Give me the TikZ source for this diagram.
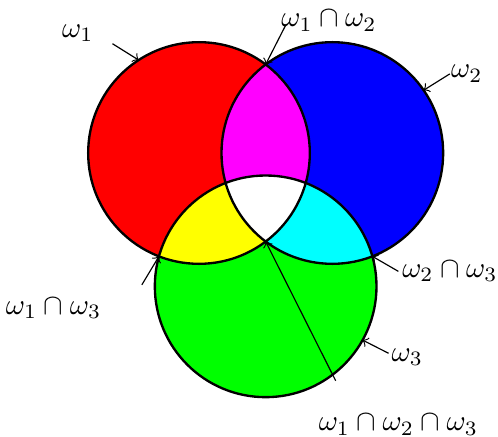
\documentclass[tikz,border=0pt]{standalone}
\usepackage{amsmath}
\usepackage{tikz}
\usetikzlibrary{positioning, calc}
\definecolor{vRed}{RGB}{255,0,0}
\definecolor{vBlue}{RGB}{0,0,255}
\definecolor{vGreen}{RGB}{0,255,0}
\definecolor{vMagenta}{RGB}{255,0,255}
\definecolor{vYellow}{RGB}{255,255,0}
\definecolor{vCyan}{RGB}{0,255,255}
\tikzset{
	setdisc/.style={draw=black, thick},
	lbl/.style={inner sep=0pt},
	pointer/.style={->},
}
\newcommand{\vennr}{1.33}

\begin{document}
\begin{tikzpicture}
	\useasboundingbox (-2.388,1.836) rectangle (3.588,-3.408);
	\coordinate (c1) at (0,0);
	\coordinate (c2) at (1.6,0);
	\coordinate (c3) at (0.8,-1.6);
	% single sets
	\fill[vRed] (c1) circle (\vennr);
	\fill[vBlue] (c2) circle (\vennr);
	\fill[vGreen] (c3) circle (\vennr);
	% overlaps
	\begin{scope}
		\clip (c2) circle (\vennr);
		\fill[vCyan] (c3) circle (\vennr);
	\end{scope}
	\begin{scope}
		\clip (c1) circle (\vennr);
		\fill[vMagenta] (c2) circle (\vennr);
		\fill[vYellow] (c3) circle (\vennr);
		\clip (c2) circle (\vennr);
		\fill[white] (c3) circle (\vennr);
	\end{scope}
	\draw[setdisc] (c1) circle (\vennr);
	\draw[setdisc] (c2) circle (\vennr);
	\draw[setdisc] (c3) circle (\vennr);

	% points the labels refer to
	\coordinate (p1) at ($(c1)+(123:\vennr)$);
	\coordinate (p2) at ($(c2)+(34.5:\vennr)$);
	\coordinate (p3) at ($(c3)+(-29:\vennr)$);
	\coordinate (p12) at (0.8,1.0625);
	\coordinate (p13) at (-0.4804,-1.2402);
	\coordinate (p23) at (2.0804,-1.2402);
	\coordinate (p123) at (0.8,-1.0625);

	\coordinate (t1) at ($(p1)+(148:0.37)$);
	\coordinate (t2) at ($(p2)+(32:0.37)$);
	\coordinate (t3) at ($(p3)+(-27:0.35)$);
	\coordinate (t12) at ($(p12)+(63:0.53)$);
	\coordinate (t13) at ($(p13)+(239:0.4)$);
	\coordinate (t23) at ($(p23)+(-30:0.36)$);
	\coordinate (t123) at ($(p123)+(-63.3:1.87)$);

	\node[lbl, above left=0.02cm and 0.22cm of t1] (l1) {$\omega_1$};
	\node[lbl, right=0.01cm of t2] (l2) {$\omega_2$};
	\node[lbl, right=0.03cm of t3, yshift=-0.05cm] (l3) {$\omega_3$};
	\node[lbl, above right=-0.08cm and -0.06cm of t12] (l12) {$\omega_1\cap\omega_2$};
	\node[lbl, below left=0.153cm and 0.48cm of t13] (l13) {$\omega_1\cap\omega_3$};
	\node[lbl, right=0.04cm of t23] (l23) {$\omega_2\cap\omega_3$};
	\node[lbl, below right=0.4cm and -0.21cm of t123] (l123) {$\omega_1\cap\omega_2\cap\omega_3$};

	\draw[pointer] (t1) -- (p1);
	\draw[pointer] (t2) -- (p2);
	\draw[pointer] (t3) -- (p3);
	\draw[pointer] (t12) -- (p12);
	\draw[pointer] (t13) -- (p13);
	\draw[pointer] (t23) -- (p23);
	\draw[pointer] (t123) -- (p123);
\end{tikzpicture}
\end{document}
